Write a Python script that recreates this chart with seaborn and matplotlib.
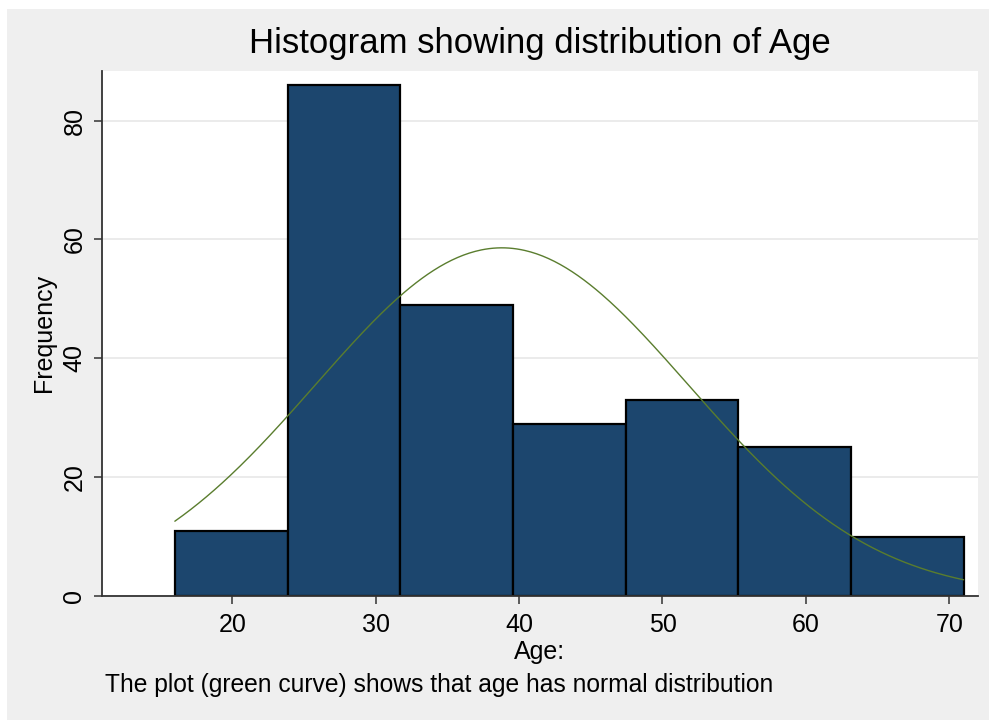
import numpy as np
import pandas as pd
import matplotlib
matplotlib.use("Agg")
import matplotlib.pyplot as plt
import seaborn as sns

# Age histogram: 7 equal-width bins between the minimum and maximum age
age_min, age_max = 16, 71
n_bins = 7
frequency = [11, 86, 49, 29, 33, 25, 10]

# Normal density overlay parameters (sample mean and standard deviation of age)
age_mean = 38.8
age_sd = 13.0

x_ticks = [20, 30, 40, 50, 60, 70]
y_ticks = [0, 20, 40, 60, 80]

bin_edges = np.linspace(age_min, age_max, n_bins + 1)
bin_width = bin_edges[1] - bin_edges[0]
bin_mid = (bin_edges[:-1] + bin_edges[1:]) / 2
hist_df = pd.DataFrame({"Age": bin_mid, "count": frequency})

grid_x = np.linspace(age_min, age_max, 400)
scale = sum(frequency) * bin_width
density = scale * np.exp(-0.5 * ((grid_x - age_mean) / age_sd) ** 2) / (age_sd * np.sqrt(2 * np.pi))
curve_df = pd.DataFrame({"Age": grid_x, "Frequency": density})

sns.set_theme(style="white")
plt.rcParams["font.family"] = ["Liberation Sans", "DejaVu Sans"]

W, H = 989, 720
fig = plt.figure(figsize=(W / 100, H / 100), dpi=100, facecolor="white")
# grey graph region inside a thin white margin
fig.patches.append(plt.Rectangle((7 / W, 0), 1 - 7 / W, 1 - 9 / H, transform=fig.transFigure,
                                 facecolor="#efefef", edgecolor="none", zorder=-10))

ax_left, ax_right, ax_top, ax_bottom = 101.7, 978, 70.7, 596
ax = fig.add_axes([ax_left / W, (H - ax_bottom) / H, (ax_right - ax_left) / W, (ax_bottom - ax_top) / H])
ax.set_facecolor("white")

sns.histplot(data=hist_df, x="Age", weights="count", bins=list(bin_edges), ax=ax,
             color="#1c466e", alpha=1, edgecolor="black", linewidth=1.6, zorder=2)
sns.lineplot(data=curve_df, x="Age", y="Frequency", ax=ax, color="#5a7d2e",
             linewidth=1.0, zorder=3)

ax.set_xlim(10.9, 72.0)
ax.set_ylim(0, 88.4)
ax.set_xticks(x_ticks)
ax.set_yticks(y_ticks)
ax.yaxis.grid(True, color="#e9e9e9", linewidth=1.3, zorder=0)
ax.set_axisbelow(True)

for side in ["top", "right"]:
    ax.spines[side].set_visible(False)
for side in ["left", "bottom"]:
    ax.spines[side].set_color("#333333")
    ax.spines[side].set_linewidth(1.3)

ax.tick_params(axis="both", direction="out", length=6, width=1.1, color="#333333",
               labelsize=18, labelcolor="black", bottom=True, left=True)
ax.tick_params(axis="x", pad=6)
ax.tick_params(axis="y", pad=5)
plt.setp(ax.get_yticklabels(), rotation=90, va="center")

plot_w = ax_right - ax_left
plot_h = ax_bottom - ax_top
ax.set_xlabel("Age:", fontsize=18, va="center", color="black")
ax.xaxis.set_label_coords(0.5, (ax_bottom - 652) / plot_h)
ax.set_ylabel("Frequency", fontsize=18, va="center", color="black")
ax.yaxis.set_label_coords((44 - ax_left) / plot_w, 0.5)

fig.text(540 / W, 1 - 44 / H, "Histogram showing distribution of Age", ha="center", va="center",
         fontsize=25, color="black")
fig.text(105 / W, 1 - 685 / H, "The plot (green curve) shows that age has normal distribution",
         ha="left", va="center", fontsize=17.7, color="black")

fig.savefig("out.png", dpi=100, facecolor=fig.get_facecolor())
